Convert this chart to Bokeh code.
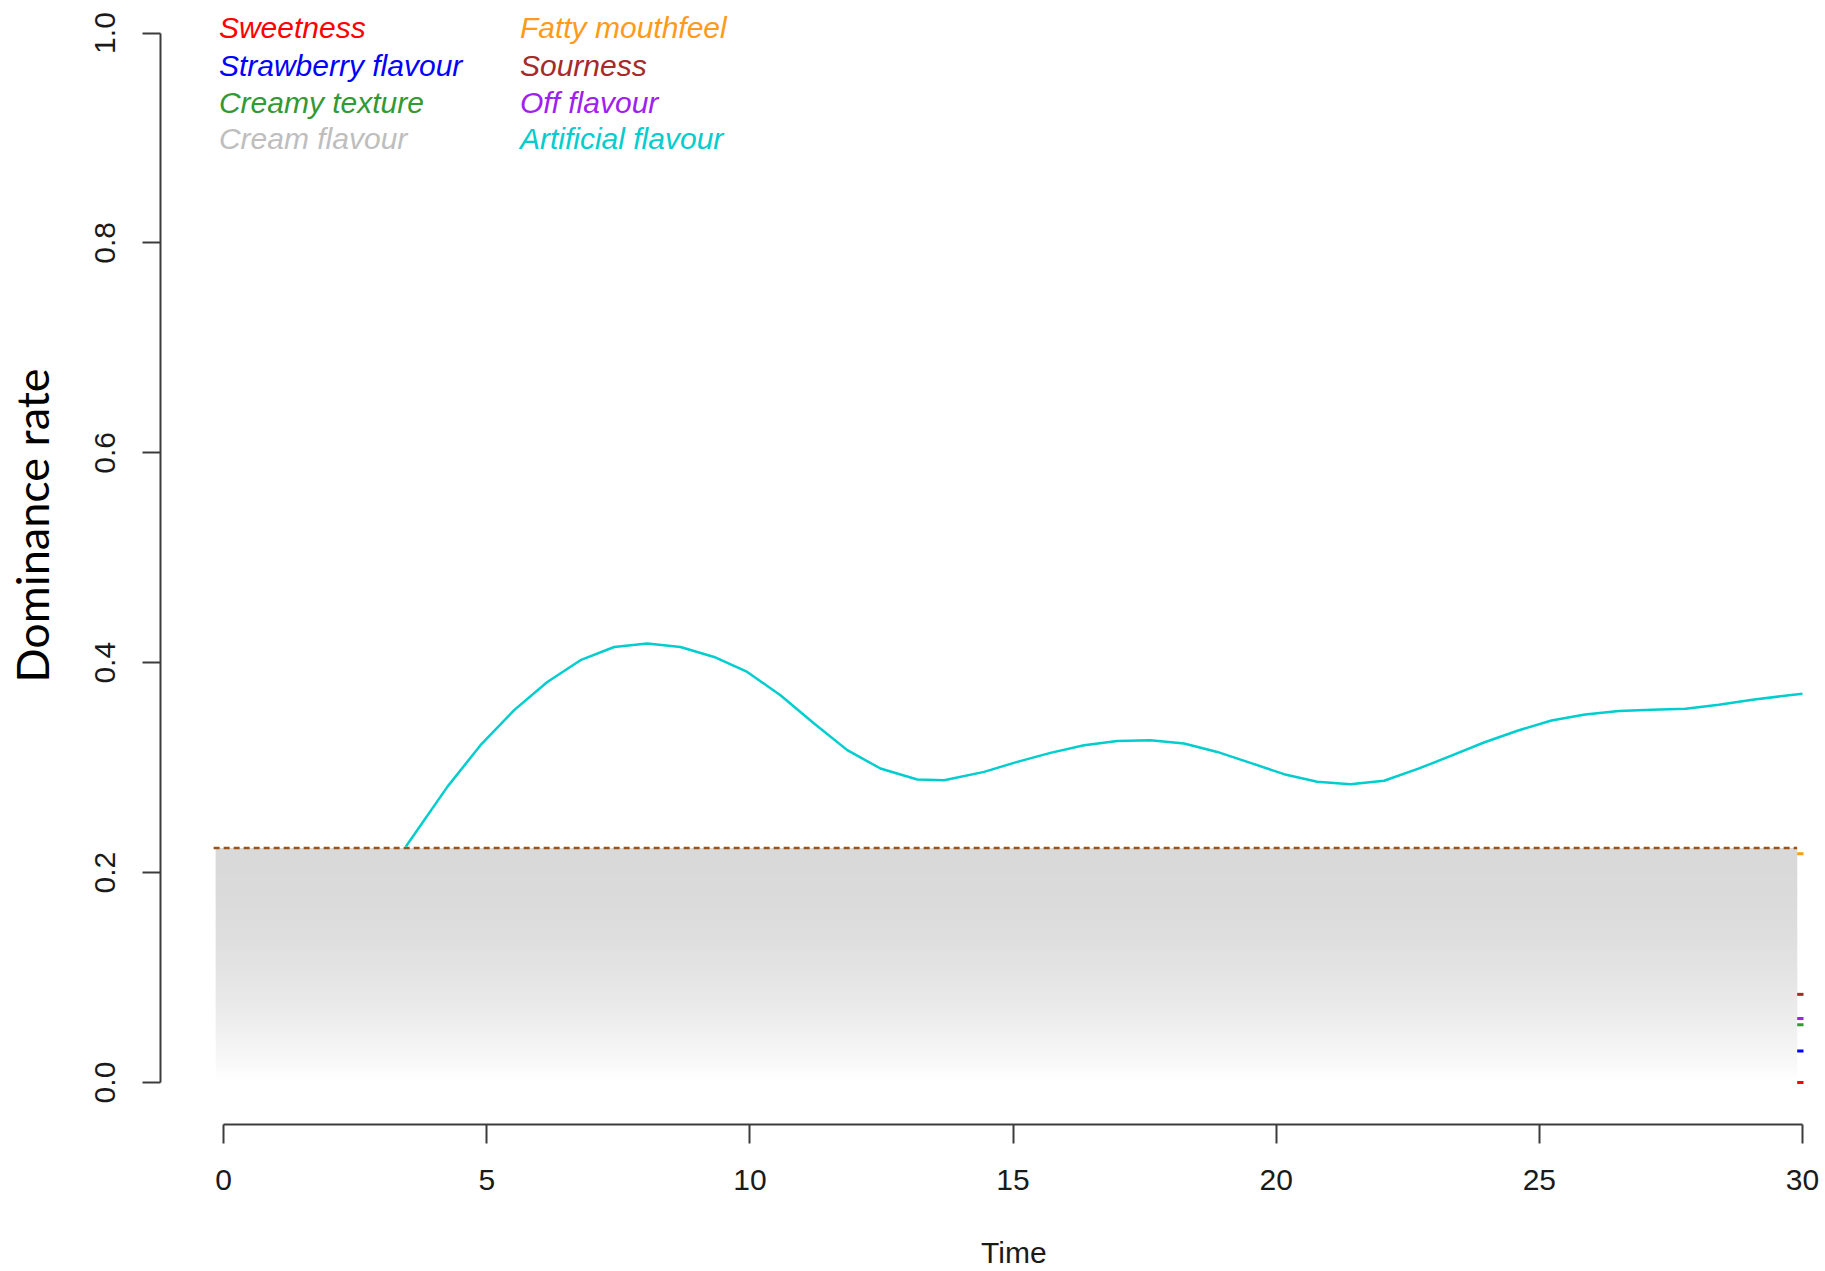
import math
from bokeh.plotting import figure
from bokeh.layouts import row
from bokeh.models import Range1d, FixedTicker, PrintfTickFormatter, ColumnDataSource
from bokeh.embed import file_html
from bokeh.resources import INLINE
from bokeh.core.properties import value

# ---------------- data ----------------
attributes = ["Sweetness", "Strawberry flavour", "Creamy texture", "Cream flavour",
              "Fatty mouthfeel", "Sourness", "Off flavour", "Artificial flavour"]
attr_colors = ["#FF0000", "#0000FF", "#339933", "#BEBEBE",
               "#FF9A1A", "#A52A2A", "#A020F0", "#00CDCD"]
# dominance rate at the end of the period (x = 30) for attributes below significance
end_attrs = ["Sweetness", "Strawberry flavour", "Creamy texture", "Fatty mouthfeel", "Sourness", "Off flavour"]
end_values = [0.0, 0.030, 0.055, 0.218, 0.084, 0.061]

art_time = [3.46, 4.25, 4.88, 5.52, 6.15, 6.78, 7.42, 8.05, 8.68, 9.32, 9.95, 10.58,
            11.22, 11.85, 12.48, 13.18, 13.69, 14.45, 15.08, 15.71, 16.35, 16.98, 17.61,
            18.25, 18.88, 19.51, 20.15, 20.78, 21.41, 22.05, 22.69, 23.33, 23.96, 24.60,
            25.23, 25.87, 26.51, 27.14, 27.78, 28.41, 29.05, 30.0]
art_rate = [0.2246, 0.2817, 0.3214, 0.3548, 0.3817, 0.4024, 0.4150, 0.4183, 0.4150, 0.4055,
            0.3912, 0.3690, 0.3421, 0.3167, 0.2992, 0.2887, 0.2881, 0.2960, 0.3055, 0.3141,
            0.3214, 0.3255, 0.3262, 0.3230, 0.3150, 0.3046, 0.2938, 0.2865, 0.2843, 0.2875,
            0.2988, 0.3114, 0.3242, 0.3354, 0.3450, 0.3507, 0.3539, 0.3551, 0.3561, 0.3599,
            0.3648, 0.3705]

sig_level = 0.2235
time_start, time_end = 0, 30
time_ticks = [0, 5, 10, 15, 20, 25, 30]
rate_ticks = [0.0, 0.2, 0.4, 0.6, 0.8, 1.0]
y_title = "Dominance rate"
x_title = "Time"

H = 1271
LEFT_W = 70
BOTTOM = 146

# ---------------- y title strip ----------------
lab = figure(width=LEFT_W, height=H, x_range=Range1d(0, LEFT_W), y_range=Range1d(BOTTOM, H),
             output_backend="svg", toolbar_location=None,
             x_axis_location=None, y_axis_location=None,
             min_border_left=0, min_border_right=0, min_border_top=0, min_border_bottom=BOTTOM)
lab.outline_line_color = None
lab.grid.visible = False
lab.text(x=[31.5], y=[H - 525.5], text=[y_title], angle=math.pi / 2,
         text_align="center", text_baseline="alphabetic",
         text_font=value("Lato"), text_font_size="45px", text_color="black")

# ---------------- main figure ----------------
p = figure(width=1825 - LEFT_W, height=H,
           x_range=Range1d(-1.2, 30.438), y_range=Range1d(-0.04, 1.031),
           output_backend="svg", toolbar_location=None,
           min_border_left=90, min_border_right=0, min_border_top=0, min_border_bottom=BOTTOM)
p.outline_line_color = None
p.grid.visible = False

# gradient band below the significance level
n = 120
band_left, band_right = time_start - 0.15, time_end - 0.1
bottoms, tops, cols = [], [], []
for i in range(n):
    b = sig_level * i / n
    t = min(sig_level, sig_level * (i + 1.7) / n)
    frac_from_top = 1 - (i + 0.5) / n
    g = int(round(217 + 38 * frac_from_top ** 2))
    bottoms.append(b)
    tops.append(t)
    cols.append("#%02x%02x%02x" % (g, g, g))
p.quad(left=band_left, right=band_right, bottom=bottoms, top=tops,
       fill_color=cols, line_color=None)

# significance line
p.segment(x0=time_start - 0.19, x1=time_end - 0.1, y0=sig_level, y1=sig_level,
          line_color="#9C5214", line_width=2.5, line_dash="6 4")

# curve tails at the end
tail_src = ColumnDataSource(dict(y=end_values,
                                 color=[attr_colors[attributes.index(a)] for a in end_attrs]))
p.segment(x0=time_end - 0.1, x1=time_end + 0.02, y0="y", y1="y", line_color="color",
          line_width=3, source=tail_src)

# artificial flavour curve
p.line(art_time, art_rate, line_color=attr_colors[7], line_width=2.5, line_join="round")

# legend (two columns)
col_x = [-0.09, 5.63]
row_y = [1.0053, 0.9688, 0.9338, 0.8993]
lx = [col_x[i // 4] for i in range(len(attributes))]
ly = [row_y[i % 4] for i in range(len(attributes))]
leg_src = ColumnDataSource(dict(x=lx, y=ly, text=attributes, color=attr_colors))
p.text(x="x", y="y", text="text", text_color="color", source=leg_src,
       text_font=value("Liberation Sans"), text_font_style="italic", text_font_size="30px",
       text_align="left", text_baseline="alphabetic")

# axes
ax_col = "#3c3c3c"
xa = p.xaxis[0]
xa.ticker = FixedTicker(ticks=time_ticks)
xa.formatter = PrintfTickFormatter(format="%d")
xa.bounds = (time_start, time_end)
xa.axis_line_color = ax_col
xa.axis_line_width = 2
xa.major_tick_line_color = ax_col
xa.major_tick_line_width = 2
xa.major_tick_out = 19
xa.major_tick_in = 0
xa.minor_tick_out = 0
xa.minor_tick_in = 0
xa.major_label_text_font = "Liberation Sans"
xa.major_label_text_font_size = "30px"
xa.major_label_text_color = "#1a1a1a"
xa.major_label_standoff = 26
# non-breaking spaces shift the centred title onto the middle of the 0-30 axis
xa.axis_label = "\u00a0" * 5 + x_title
xa.axis_label_text_font = "Liberation Sans"
xa.axis_label_text_font_style = "normal"
xa.axis_label_text_font_size = "30px"
xa.axis_label_text_color = "#1a1a1a"
xa.axis_label_standoff = 43

ya = p.yaxis[0]
ya.ticker = FixedTicker(ticks=rate_ticks)
ya.formatter = PrintfTickFormatter(format="%.1f")
ya.bounds = (0, 1)
ya.axis_line_color = ax_col
ya.axis_line_width = 2
ya.major_tick_line_color = ax_col
ya.major_tick_line_width = 2
ya.major_tick_out = 18
ya.major_tick_in = 0
ya.minor_tick_out = 0
ya.minor_tick_in = 0
ya.major_label_orientation = "vertical"
ya.major_label_text_font = "Liberation Sans"
ya.major_label_text_font_size = "30px"
ya.major_label_text_color = "#1a1a1a"
ya.major_label_standoff = 27

layout = row(lab, p, spacing=0)
open("out.html", "w").write(file_html(layout, INLINE))
